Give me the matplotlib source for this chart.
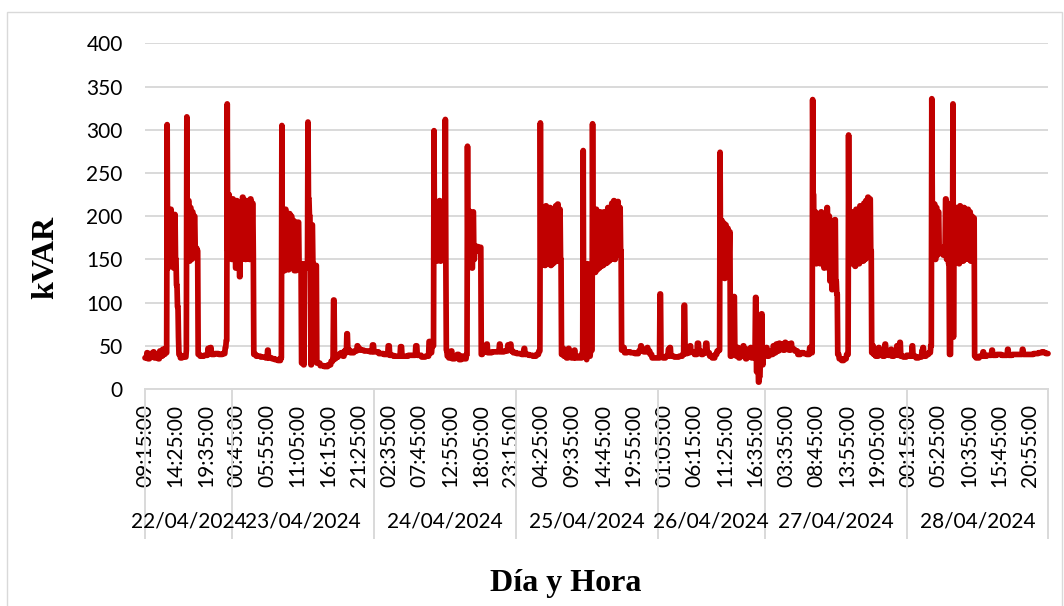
import numpy as np
import pandas as pd
import matplotlib
matplotlib.use("Agg")
import matplotlib.pyplot as plt
import matplotlib.transforms as mtransforms
from matplotlib.patches import Rectangle
from matplotlib.lines import Line2D

# ---------------- data ----------------
day_labels = ["22/04/2024", "23/04/2024", "24/04/2024", "25/04/2024",
              "26/04/2024", "27/04/2024", "28/04/2024"]
day_first = ["2024-04-22 09:15", "2024-04-23 00:00", "2024-04-24 00:00",
             "2024-04-25 00:00", "2024-04-26 00:00", "2024-04-27 00:00",
             "2024-04-28 00:00"]
day_last = ["2024-04-22 23:55", "2024-04-23 23:55", "2024-04-24 23:55",
            "2024-04-25 23:55", "2024-04-26 18:05", "2024-04-27 23:55",
            "2024-04-28 23:55"]
label_every = 62  # one time label every 62 samples (5-min samples)

# (sample index where the level changes, kVAR value)
steps_22 = [(0, 36), (4, 42), (6, 35), (10, 41), (13, 37), (17, 43), (19, 36), (24, 40),
            (27, 35), (30, 44), (32, 38), (36, 46), (38, 40), (41, 47), (43, 42),
            (45, 306), (46, 140), (48, 205), (50, 142), (52, 208), (54, 145), (56, 200),
            (58, 140), (60, 202), (62, 150), (64, 120), (66, 95), (68, 60), (69, 40),
            (72, 36), (76, 38), (80, 37), (84, 45), (85, 315), (86, 150), (88, 218),
            (90, 148), (92, 210), (94, 150), (96, 205), (98, 152), (100, 200), (102, 163),
            (106, 160), (108, 40), (112, 38), (120, 39), (128, 47), (130, 41), (133, 48),
            (135, 40), (142, 41), (150, 40), (158, 41), (163, 48), (165, 56), (167, 330),
            (168, 160), (170, 225), (172, 155), (174, 215), (176, 150)]
steps_23 = [(178, 220), (180, 155), (182, 200), (184, 140), (186, 218), (188, 155),
            (190, 212), (192, 130), (194, 210), (196, 150), (198, 222), (200, 155),
            (202, 205), (204, 150), (206, 218), (208, 155), (210, 210), (212, 150),
            (214, 220), (216, 155), (218, 215), (220, 155), (221, 40), (226, 38),
            (235, 37), (245, 36), (249, 45), (251, 36), (258, 35), (264, 34), (270, 33),
            (276, 36), (278, 305), (279, 140), (281, 205), (283, 137), (285, 208),
            (287, 140), (289, 200), (291, 138), (293, 203), (295, 142), (297, 200),
            (299, 140), (301, 195), (303, 137), (308, 193), (313, 140), (318, 30),
            (320, 145), (322, 28), (324, 143), (327, 140), (331, 309), (332, 220),
            (334, 200), (336, 145), (337, 28), (339, 190), (341, 145), (343, 143),
            (349, 30), (356, 27), (364, 26), (372, 28), (378, 32), (382, 38), (383, 103),
            (385, 35), (388, 37), (393, 40), (398, 42), (402, 38), (405, 44), (408, 42),
            (410, 64), (412, 45), (417, 42), (425, 44), (431, 50), (433, 47), (437, 45),
            (445, 44), (457, 43), (462, 51)]
steps_24 = [(465, 43), (475, 41), (485, 40), (494, 50), (497, 39), (505, 38), (519, 49),
            (522, 38), (535, 39), (550, 50), (553, 39), (562, 37), (570, 38), (577, 55),
            (580, 42), (583, 50), (587, 299), (588, 150), (590, 216), (592, 148),
            (594, 212), (596, 150), (598, 218), (600, 148), (602, 210), (604, 152),
            (606, 215), (608, 150), (610, 312), (611, 150), (612, 45), (614, 38),
            (617, 36), (622, 44), (624, 35), (630, 37), (634, 40), (638, 34), (643, 38),
            (648, 35), (653, 40), (655, 281), (656, 142), (658, 206), (660, 145),
            (662, 200), (664, 140), (666, 205), (668, 150), (670, 165), (676, 160),
            (679, 164), (683, 40), (686, 45), (692, 43), (694, 52), (696, 42), (705, 43),
            (718, 44), (720, 52), (722, 43), (730, 44), (737, 51), (739, 46), (742, 52),
            (744, 44), (748, 42)]
steps_25 = [(755, 41), (765, 40), (770, 47), (772, 40), (780, 39), (788, 38), (795, 40),
            (800, 44), (803, 308), (804, 143), (806, 210), (808, 145), (810, 208),
            (812, 143), (814, 212), (816, 145), (818, 205), (820, 148), (822, 210),
            (824, 143), (826, 208), (828, 145), (830, 206), (832, 147), (834, 212),
            (836, 148), (838, 214), (840, 150), (842, 208), (844, 150), (846, 40),
            (849, 47), (851, 38), (856, 36), (860, 47), (862, 37), (866, 36), (872, 45),
            (874, 36), (880, 38), (884, 36), (888, 42), (890, 276), (891, 60), (893, 38),
            (897, 34), (898, 145), (900, 38), (905, 45), (909, 307), (910, 140),
            (912, 205), (914, 135), (916, 208), (918, 138), (920, 200), (922, 140),
            (924, 205), (926, 142), (928, 198), (930, 143), (932, 205), (934, 145),
            (936, 200), (938, 146), (940, 210), (942, 148), (944, 205), (946, 150),
            (948, 215), (950, 152), (952, 218), (954, 150), (956, 213), (958, 155),
            (960, 217), (962, 155), (964, 210), (966, 160), (968, 45), (971, 48),
            (974, 42), (980, 43), (986, 42), (995, 41), (1003, 44), (1007, 50),
            (1009, 46), (1013, 43), (1020, 48), (1022, 44), (1026, 40), (1030, 36)]
steps_26 = [(1046, 110), (1048, 37), (1052, 36), (1058, 38), (1063, 46), (1066, 48),
            (1068, 38), (1075, 37), (1085, 38), (1092, 40), (1095, 97), (1097, 41),
            (1102, 46), (1105, 42), (1107, 50), (1109, 43), (1116, 40), (1122, 53),
            (1125, 44), (1130, 40), (1134, 42), (1139, 53), (1142, 42), (1147, 38),
            (1152, 36), (1158, 40), (1162, 44), (1166, 45), (1168, 274), (1169, 130),
            (1171, 195), (1173, 132), (1175, 192), (1177, 128), (1179, 190), (1181, 132),
            (1183, 186), (1185, 140), (1187, 182), (1189, 38), (1192, 42), (1196, 107),
            (1198, 45), (1201, 38), (1204, 48), (1206, 36), (1209, 45), (1212, 38),
            (1215, 50), (1217, 40), (1220, 35), (1223, 46), (1226, 38), (1230, 48),
            (1232, 36), (1236, 42), (1240, 106), (1242, 20), (1244, 45), (1246, 8),
            (1248, 15), (1250, 40), (1252, 87), (1254, 28), (1256, 45), (1258, 38)]
steps_27 = [(1259, 42), (1262, 48), (1264, 38), (1268, 44), (1272, 40), (1276, 50),
            (1278, 42), (1282, 52), (1284, 44), (1288, 53), (1290, 46), (1294, 52),
            (1296, 45), (1300, 54), (1302, 46), (1306, 52), (1308, 45), (1312, 53),
            (1314, 46), (1320, 44), (1326, 40), (1332, 42), (1338, 41), (1344, 40),
            (1350, 48), (1352, 42), (1356, 335), (1357, 225), (1359, 150), (1361, 205),
            (1363, 145), (1365, 200), (1367, 150), (1369, 195), (1371, 145), (1373, 205),
            (1375, 150), (1377, 190), (1379, 140), (1381, 200), (1383, 145), (1385, 210),
            (1387, 140), (1389, 200), (1391, 125), (1393, 195), (1395, 115), (1397, 190),
            (1399, 118), (1401, 196), (1403, 125), (1405, 110), (1407, 40), (1410, 35),
            (1415, 33), (1420, 35), (1425, 40), (1429, 294), (1430, 150), (1432, 196),
            (1434, 145), (1436, 205), (1438, 148), (1440, 200), (1442, 142), (1444, 208),
            (1446, 148), (1448, 205), (1450, 145), (1452, 212), (1454, 150), (1456, 210),
            (1458, 148), (1460, 215), (1462, 150), (1464, 218), (1466, 152), (1468, 222),
            (1470, 155), (1472, 220), (1474, 160), (1476, 42), (1478, 50), (1480, 40),
            (1484, 38), (1490, 48), (1492, 40), (1496, 44), (1498, 38), (1503, 52),
            (1505, 40), (1510, 39), (1515, 46), (1517, 38), (1522, 40), (1527, 50),
            (1529, 39), (1533, 54), (1535, 38), (1540, 37)]
steps_28 = [(1547, 39), (1552, 38), (1558, 50), (1560, 38), (1566, 36), (1572, 37),
            (1578, 44), (1580, 48), (1582, 38), (1587, 40), (1592, 42), (1596, 50),
            (1598, 336), (1599, 215), (1601, 152), (1603, 214), (1605, 150), (1607, 210),
            (1609, 155), (1611, 205), (1613, 160), (1615, 158), (1618, 162), (1621, 155),
            (1624, 165), (1626, 220), (1628, 150), (1630, 215), (1632, 145), (1634, 40),
            (1637, 200), (1639, 150), (1641, 330), (1642, 60), (1643, 205), (1645, 148),
            (1647, 210), (1649, 150), (1651, 205), (1653, 145), (1655, 212), (1657, 150),
            (1659, 208), (1661, 148), (1663, 210), (1665, 150), (1667, 205), (1669, 152),
            (1671, 208), (1673, 150), (1675, 205), (1677, 148), (1679, 200), (1681, 150),
            (1683, 198), (1685, 38), (1688, 36), (1695, 38), (1702, 43), (1704, 38),
            (1710, 39), (1720, 45), (1722, 39), (1730, 40), (1740, 39), (1752, 46),
            (1754, 39), (1762, 40), (1772, 40), (1782, 46), (1784, 40), (1795, 40),
            (1805, 41), (1815, 42), (1822, 43), (1826, 42), (1830, 41)]

# ---------------- build series ----------------
day_times = [pd.date_range(a, b, freq="5min") for a, b in zip(day_first, day_last)]
times = day_times[0]
for t in day_times[1:]:
    times = times.append(t)
N = len(times)
day_sizes = [len(t) for t in day_times]
day_starts = np.concatenate([[0], np.cumsum(day_sizes)[:-1]])

steps = steps_22 + steps_23 + steps_24 + steps_25 + steps_26 + steps_27 + steps_28
idx = np.array([s[0] for s in steps])
val = np.array([s[1] for s in steps], dtype=float)
runs = np.diff(np.append(idx, N))
kvar = np.repeat(val, runs)
x = np.arange(N)

# ---------------- figure ----------------
W, H = 1064, 606
fig = plt.figure(figsize=(W / 100, H / 100), dpi=100)
fig.patch.set_facecolor("white")
L, R, T, B = 145, 1048, 43.4, 389
ax = fig.add_axes([L / W, 1 - B / H, (R - L) / W, (B - T) / H])

grid_c = "#d9d9d9"
tick_font = ["Lato", "DejaVu Sans"]
serif_font = ["Liberation Serif", "DejaVu Serif"]

ax.plot(x, kvar, color="#C00000", lw=4.1, solid_joinstyle="round",
        solid_capstyle="round", zorder=3, clip_on=False)

ax.set_xlim(0, N - 1)
ax.set_ylim(0, 400)
ax.set_yticks(np.arange(0, 401, 50))
ax.yaxis.grid(True, color=grid_c, lw=1.4)
ax.set_axisbelow(True)
for s in ["left", "right", "top"]:
    ax.spines[s].set_visible(False)
ax.spines["bottom"].set_color(grid_c)
ax.spines["bottom"].set_linewidth(1.4)

tick_idx = np.arange(0, N, label_every)
tick_lab = [times[i].strftime("%H:%M:%S") for i in tick_idx]
ax.set_xticks(tick_idx)
ax.set_xticklabels(tick_lab, rotation=90, family=tick_font, fontsize=15)
ax.tick_params(axis="x", length=0, pad=11, colors="black")
ax.tick_params(axis="y", length=0, pad=16, colors="black")
for lab in ax.get_yticklabels():
    lab.set_family(tick_font)
    lab.set_fontsize(15)

trans = mtransforms.blended_transform_factory(ax.transData, ax.transAxes)
sep_bottom = (B - 538) / (B - T)
date_y = (B - 522) / (B - T)
bounds = list(day_starts) + [N - 1]
for b in bounds:
    ax.add_line(Line2D([b, b], [0, sep_bottom], transform=trans, color=grid_c,
                       lw=1.4, clip_on=False))
for k, lab in enumerate(day_labels):
    c = (bounds[k] + bounds[k + 1]) / 2
    ax.text(c, date_y, lab, transform=trans, ha="center", va="center",
            family=tick_font, fontsize=15, color="black")

fig.text(45.5 / W, 1 - 257 / H, "kVAR", rotation=90, ha="center", va="center",
         family=serif_font, fontweight="bold", fontsize=23)
fig.text(566 / W, 1 - 583 / H, "Día y Hora", ha="center", va="center",
         family=serif_font, fontweight="bold", fontsize=23)

fig.add_artist(Rectangle((7 / W, -0.05), (1062 - 7) / W, 1 - 12 / H + 0.05,
                         transform=fig.transFigure, fill=False,
                         edgecolor=grid_c, lw=1.0))

fig.savefig("out.png", dpi=100, facecolor="white")
